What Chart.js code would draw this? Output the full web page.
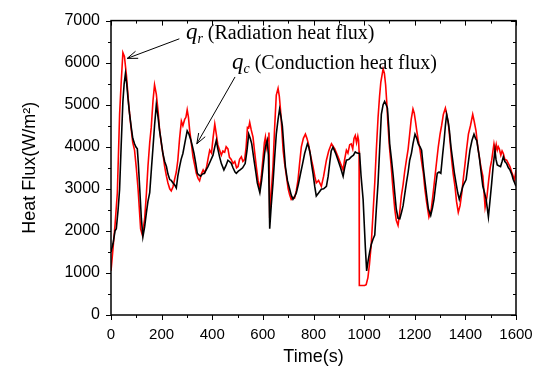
<!DOCTYPE html>
<html>
<head>
<meta charset="utf-8">
<script src="https://cdn.jsdelivr.net/npm/chart.js@4.4.1/dist/chart.umd.min.js"></script>
<style>
html, body { margin: 0; padding: 0; background: #fff; }
</style>
</head>
<body>
<canvas id="fluxChart" width="547" height="379"></canvas>
<script>
// tick labels
const xTicks = [0, 200, 400, 600, 800, 1000, 1200, 1400, 1600];
const yTicks = [0, 1000, 2000, 3000, 4000, 5000, 6000, 7000];

// q_r, radiation heat flux (red)
const rTime = [0, 8, 16, 25, 34, 40, 47, 53, 61, 70, 79, 86, 93, 100, 107, 117, 124, 133, 140, 146, 153, 159, 166, 172, 179, 186, 192, 199, 206, 212, 219, 225, 232, 238, 245, 251, 258, 264, 271, 278, 284, 291, 296, 301, 306, 311, 318, 324, 331, 337, 344, 350, 357, 364, 370, 377, 383, 390, 397, 403, 410, 416, 422, 429, 436, 442, 449, 455, 462, 468, 475, 482, 489, 496, 502, 508, 515, 521, 528, 534, 539, 544, 548, 554, 561, 567, 574, 581, 588, 594, 601, 606, 610, 614, 617, 621, 624, 627, 633, 640, 646, 653, 660, 665, 670, 675, 680, 686, 693, 700, 706, 712, 719, 725, 732, 739, 745, 752, 760, 768, 774, 780, 788, 798, 805, 811, 820, 831, 840, 851, 860, 871, 884, 897, 907, 917, 923, 930, 936, 943, 949, 955, 960, 965, 970, 975, 978, 980, 981, 1002, 1008, 1015, 1021, 1028, 1035, 1042, 1048, 1055, 1061, 1066, 1075, 1080, 1085, 1090, 1094, 1100, 1107, 1114, 1121, 1127, 1134, 1140, 1147, 1154, 1160, 1167, 1174, 1180, 1186, 1193, 1198, 1203, 1208, 1214, 1221, 1227, 1234, 1240, 1247, 1256, 1265, 1273, 1280, 1287, 1293, 1300, 1306, 1313, 1321, 1327, 1333, 1340, 1346, 1352, 1359, 1365, 1372, 1379, 1386, 1392, 1399, 1405, 1412, 1420, 1429, 1435, 1442, 1448, 1455, 1462, 1469, 1478, 1485, 1492, 1498, 1504, 1509, 1513, 1518, 1522, 1526, 1530, 1534, 1540, 1545, 1550, 1556, 1563, 1570, 1576, 1583, 1589, 1594, 1600];
const rFlux = [1050, 1580, 2150, 2900, 4770, 5500, 6240, 6150, 5700, 5000, 4460, 4100, 3920, 3500, 2990, 2050, 1900, 2290, 2900, 3530, 4100, 4460, 5100, 5470, 5250, 4850, 4400, 4070, 3800, 3530, 3300, 3140, 3000, 2950, 3050, 3220, 3400, 3680, 4200, 4610, 4500, 4650, 4700, 4880, 4700, 4380, 4050, 3760, 3550, 3370, 3250, 3190, 3350, 3450, 3380, 3500, 3700, 3920, 3850, 4200, 4540, 4300, 4050, 3920, 3800, 3900, 3870, 4000, 3950, 3750, 3700, 3600, 3650, 3500, 3530, 3700, 3760, 3650, 3700, 4000, 4460, 4450, 4580, 4400, 4230, 3900, 3530, 3200, 2990, 3300, 3760, 4100, 4230, 4000, 4120, 4200, 4340, 2300, 2900, 3530, 4400, 5230, 5390, 5200, 4850, 4400, 3920, 3600, 3300, 3000, 2850, 2750, 2800, 2780, 2950, 3220, 3600, 4000, 4200, 4300, 4200, 4070, 3800, 3530, 3300, 3140, 3200, 3060, 3300, 3680, 3900, 4070, 3950, 3760, 3600, 3450, 3700, 3920, 3850, 4050, 4070, 3950, 4200, 4270, 4100, 4250, 4150, 3900, 700, 700, 720, 890, 1200, 1670, 2400, 3140, 3900, 4690, 5200, 5540, 5850, 5750, 5470, 5000, 4540, 4000, 3530, 3000, 2520, 2250, 2130, 2400, 2830, 3100, 3400, 3680, 3950, 4300, 4650, 4900, 4800, 4600, 4380, 4150, 3920, 3650, 3370, 3000, 2680, 2330, 2500, 2910, 3300, 3680, 4000, 4300, 4500, 4770, 4920, 4750, 4540, 4100, 3680, 3350, 3060, 2700, 2440, 2600, 2910, 3250, 3610, 3950, 4300, 4500, 4770, 4600, 4380, 4050, 3760, 3500, 3300, 2560, 2800, 3200, 3500, 3680, 3900, 4070, 3900, 4050, 3920, 4000, 3950, 3800, 3900, 3840, 3700, 3680, 3600, 3530, 3400, 3300, 3200, 3450];

// q_c, conduction heat flux (black)
const cTime = [0, 8, 16, 21, 28, 34, 40, 47, 52, 57, 62, 67, 73, 80, 86, 93, 98, 104, 108, 113, 120, 126, 133, 140, 146, 153, 160, 166, 172, 179, 186, 192, 199, 205, 212, 219, 225, 232, 238, 245, 251, 258, 264, 271, 277, 284, 292, 301, 308, 316, 322, 328, 335, 341, 347, 354, 361, 369, 376, 383, 392, 403, 410, 416, 422, 429, 436, 446, 454, 462, 468, 475, 482, 490, 495, 503, 510, 520, 530, 537, 544, 550, 556, 565, 572, 578, 588, 595, 601, 606, 610, 617, 622, 627, 633, 640, 646, 653, 660, 666, 672, 677, 683, 689, 697, 706, 712, 719, 726, 732, 740, 749, 757, 765, 776, 781, 787, 792, 798, 805, 811, 820, 831, 840, 851, 858, 864, 870, 877, 887, 897, 907, 917, 923, 930, 940, 949, 958, 965, 972, 982, 988, 996, 1001, 1005, 1010, 1016, 1022, 1028, 1035, 1042, 1048, 1055, 1061, 1068, 1075, 1081, 1087, 1092, 1097, 1101, 1108, 1115, 1121, 1127, 1134, 1141, 1148, 1154, 1160, 1167, 1174, 1180, 1187, 1193, 1201, 1208, 1214, 1221, 1227, 1234, 1241, 1248, 1254, 1263, 1270, 1276, 1282, 1289, 1296, 1303, 1310, 1316, 1321, 1326, 1332, 1337, 1343, 1350, 1356, 1363, 1370, 1376, 1383, 1390, 1397, 1403, 1410, 1418, 1426, 1434, 1440, 1445, 1450, 1455, 1462, 1469, 1476, 1482, 1491, 1497, 1504, 1510, 1517, 1521, 1526, 1532, 1539, 1545, 1550, 1556, 1563, 1570, 1576, 1583, 1589, 1594, 1600];
const cFlux = [1500, 1700, 2000, 2050, 2500, 2990, 4000, 5080, 5500, 5740, 5500, 5160, 4800, 4460, 4200, 4070, 4000, 3950, 3600, 3060, 2290, 1860, 2100, 2440, 2700, 2910, 3500, 3990, 4500, 5000, 4700, 4380, 4100, 3840, 3650, 3530, 3350, 3220, 3200, 3140, 3100, 3020, 3300, 3530, 3700, 3840, 4100, 4380, 4300, 4150, 4000, 3840, 3600, 3370, 3330, 3300, 3350, 3370, 3450, 3530, 3650, 3800, 4000, 4150, 3950, 3760, 3600, 3450, 3550, 3680, 3650, 3610, 3500, 3400, 3370, 3420, 3450, 3500, 3600, 3900, 4300, 4200, 4070, 3680, 3400, 3140, 2910, 3200, 3530, 3800, 3990, 4150, 3800, 2050, 2600, 3140, 3700, 4300, 4650, 4890, 4700, 4490, 4000, 3530, 3200, 2990, 2850, 2750, 2820, 2900, 3100, 3370, 3600, 3840, 4070, 4000, 3840, 3600, 3370, 3050, 2830, 2900, 2990, 3000, 3060, 3300, 3610, 3900, 3990, 3850, 3680, 3500, 3300, 3500, 3680, 3700, 3760, 3800, 3880, 3850, 3840, 3300, 2750, 2100, 1590, 1050, 1300, 1500, 1670, 1800, 1900, 2500, 3140, 3900, 4770, 5000, 5080, 5000, 4920, 4500, 4070, 3700, 3300, 2900, 2520, 2300, 2290, 2450, 2600, 2850, 3140, 3400, 3680, 3850, 4070, 4300, 4200, 4070, 4000, 3920, 3500, 3140, 2800, 2520, 2370, 2550, 2750, 3050, 3370, 3400, 3370, 3800, 4150, 4500, 4770, 4600, 4380, 4000, 3680, 3400, 3140, 2900, 2750, 2900, 3060, 3150, 3220, 3550, 3920, 4150, 4300, 4200, 4150, 3950, 3760, 3400, 3060, 2900, 2750, 2330, 2700, 3140, 3550, 3920, 3700, 3570, 3550, 3530, 3650, 3760, 3650, 3600, 3500, 3450, 3350, 3220, 3150, 3060];

const toPoints = (ts, vs) => ts.map((t, i) => ({ x: t, y: vs[i] }));

// labels with arrows, placed in data units
const notes = [
  { sym: 'q', sub: 'r', text: ' (Radiation heat flux)', at: [296, 6560], tail: [270, 6567], head: [64, 6101] },
  { sym: 'q', sub: 'c', text: ' (Conduction heat flux)', at: [478, 5838], tail: [490, 5660], head: [339, 4070] }
];

const serif = '"Liberation Serif", "Times New Roman", serif';
const sans = '"Liberation Sans", Arial, sans-serif';

const frameTicks = {
  id: 'frameTicks',
  afterDraw(chart) {
    const { ctx, chartArea: a } = chart;
    const x = chart.scales.x, y = chart.scales.y;
    ctx.save();
    ctx.strokeStyle = '#000';
    ctx.lineWidth = 1.5;
    ctx.strokeRect(a.left, a.top, a.right - a.left, a.bottom - a.top);
    ctx.lineWidth = 1;
    ctx.beginPath();
    for (let t = xTicks[0]; t <= xTicks[xTicks.length - 1]; t += 100) {
      const px = Math.round(x.getPixelForValue(t)) + 0.5;
      const len = xTicks.includes(t) ? 5 : 3;
      ctx.moveTo(px, a.bottom); ctx.lineTo(px, a.bottom + len);
      ctx.moveTo(px, a.top); ctx.lineTo(px, a.top + len);
    }
    for (let v = yTicks[0]; v <= yTicks[yTicks.length - 1]; v += 500) {
      const py = Math.round(y.getPixelForValue(v)) + 0.5;
      const len = yTicks.includes(v) ? 5 : 3;
      ctx.moveTo(a.left, py); ctx.lineTo(a.left - len, py);
      ctx.moveTo(a.right, py); ctx.lineTo(a.right - len, py);
    }
    ctx.stroke();

    // annotations
    ctx.fillStyle = '#000';
    ctx.textBaseline = 'alphabetic';
    notes.forEach(n => {
      let px = x.getPixelForValue(n.at[0]);
      const py = y.getPixelForValue(n.at[1]);
      ctx.font = 'italic 23px ' + serif;
      ctx.fillText(n.sym, px, py);
      px += ctx.measureText(n.sym).width;
      ctx.font = 'italic 14px ' + serif;
      ctx.fillText(n.sub, px, py + 4);
      px += ctx.measureText(n.sub).width;
      ctx.font = '20px ' + serif;
      ctx.fillText(n.text, px, py);

      const x0 = x.getPixelForValue(n.tail[0]), y0 = y.getPixelForValue(n.tail[1]);
      const x1 = x.getPixelForValue(n.head[0]), y1 = y.getPixelForValue(n.head[1]);
      const ang = Math.atan2(y1 - y0, x1 - x0);
      ctx.beginPath();
      ctx.moveTo(x0, y0); ctx.lineTo(x1, y1);
      ctx.moveTo(x1 - 11 * Math.cos(ang - 0.35), y1 - 11 * Math.sin(ang - 0.35));
      ctx.lineTo(x1, y1);
      ctx.lineTo(x1 - 11 * Math.cos(ang + 0.35), y1 - 11 * Math.sin(ang + 0.35));
      ctx.stroke();
    });
    ctx.restore();
  }
};

const ctx = document.getElementById('fluxChart').getContext('2d');
const fluxChart = new Chart(ctx, {
  type: 'line',
  data: {
    datasets: [{
      label: 'qc',
      data: toPoints(cTime, cFlux),
      borderColor: '#000000',
      borderWidth: 1.6,
      pointRadius: 0,
      order: 0
    }, {
      label: 'qr',
      data: toPoints(rTime, rFlux),
      borderColor: '#ff0000',
      borderWidth: 1.6,
      pointRadius: 0,
      order: 1
    }]
  },
  options: {
    responsive: false,
    animation: false,
    layout: { padding: { top: 14, right: 31, left: 0, bottom: 0 } },
    plugins: { legend: { display: false }, tooltip: { enabled: false } },
    scales: {
      x: {
        type: 'linear',
        min: 0,
        max: 1600,
        afterBuildTicks: s => { s.ticks = xTicks.map(v => ({ value: v })); },
        afterFit: s => { s.height = 64; },
        grid: { display: false, drawTicks: false },
        border: { display: false },
        ticks: { padding: 11, color: '#000', font: { family: sans, size: 15 }, maxRotation: 0, callback: v => String(v) },
        title: { display: true, text: 'Time(s)', color: '#000', font: { family: sans, size: 18 }, padding: { top: 0, bottom: 11 } }
      },
      y: {
        type: 'linear',
        min: 0,
        max: 7000,
        afterBuildTicks: s => { s.ticks = yTicks.map(v => ({ value: v })); },
        afterFit: s => { s.width = 111; },
        grid: { display: false, drawTicks: false },
        border: { display: false },
        ticks: { padding: 11, color: '#000', font: { family: sans, size: 16 }, callback: v => String(v) },
        title: { display: true, text: 'Heat Flux(W/m\u00b2)', color: '#000', font: { family: sans, size: 18 }, padding: { top: 19, bottom: 0 } }
      }
    }
  },
  plugins: [frameTicks]
});
</script>
</body>
</html>
